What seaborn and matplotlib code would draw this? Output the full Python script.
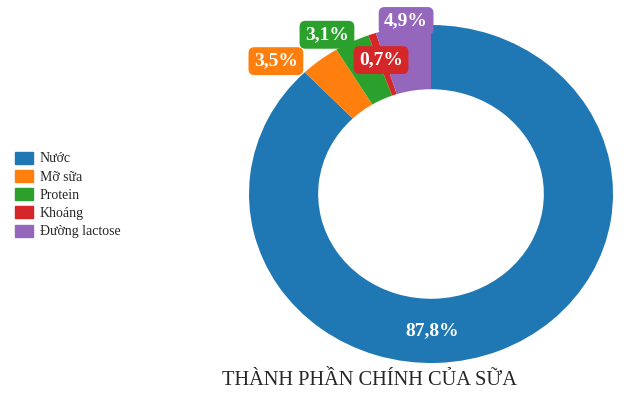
import matplotlib
matplotlib.use("Agg")
import matplotlib.pyplot as plt
import numpy as np
import seaborn as sns
from matplotlib.patches import Patch

# Thành phần chính của sữa (%)
categories = ["Nước", "Mỡ sữa", "Protein", "Khoáng", "Đường lactose"]
values = [87.8, 3.5, 3.1, 0.7, 4.9]
labels = ["87,8%", "3,5%", "3,1%", "0,7%", "4,9%"]
title = "THÀNH PHẦN CHÍNH CỦA SỮA"

sns.set_theme(style="white")
plt.rcParams["font.family"] = ["Liberation Serif", "DejaVu Serif"]
colors = sns.color_palette("tab10", 5)

W, H = 629, 394
fig = plt.figure(figsize=(W / 100, H / 100), dpi=100)
# pie box in pixels: slightly wider than tall, like the reference
ax = fig.add_axes([249 / W, 31 / H, 364 / W, 338 / H])

wedges, _ = ax.pie(values, colors=colors, startangle=90, counterclock=False,
                   wedgeprops=dict(width=0.38, linewidth=0))
ax.set_xlim(-1, 1)
ax.set_ylim(-1, 1)
ax.set_aspect("auto")
ax.axis("off")

# label offsets (pixels) from the outer middle of each wedge
offsets = [(-67, 20), (-44, -1), (-25, 7), (9, -26), (3, 6)]
for i, (w, lab, col, off) in enumerate(zip(wedges, labels, colors, offsets)):
    ang = np.deg2rad((w.theta1 + w.theta2) / 2)
    xy = (np.cos(ang), np.sin(ang))
    box = None
    if i > 0:
        box = dict(boxstyle="round,pad=0.28,rounding_size=0.3", fc=col, ec="none")
    ax.annotate(lab, xy=xy, xytext=off, textcoords="offset pixels",
                ha="center", va="center", fontsize=14, fontweight="bold",
                color="white", bbox=box, annotation_clip=False)

handles = [Patch(facecolor=c, edgecolor=c, label=n) for c, n in zip(colors, categories)]
fig.legend(handles=handles, loc="center left", bbox_to_anchor=(15 / W, 1 - 195 / H),
           frameon=False, fontsize=10, handlelength=1.3, handleheight=0.95,
           handletextpad=0.5, labelspacing=0.32, borderpad=0, borderaxespad=0)

fig.text(370 / W, 9 / H, title, ha="center", va="baseline", fontsize=14.7)

fig.savefig("out.png", dpi=100)
